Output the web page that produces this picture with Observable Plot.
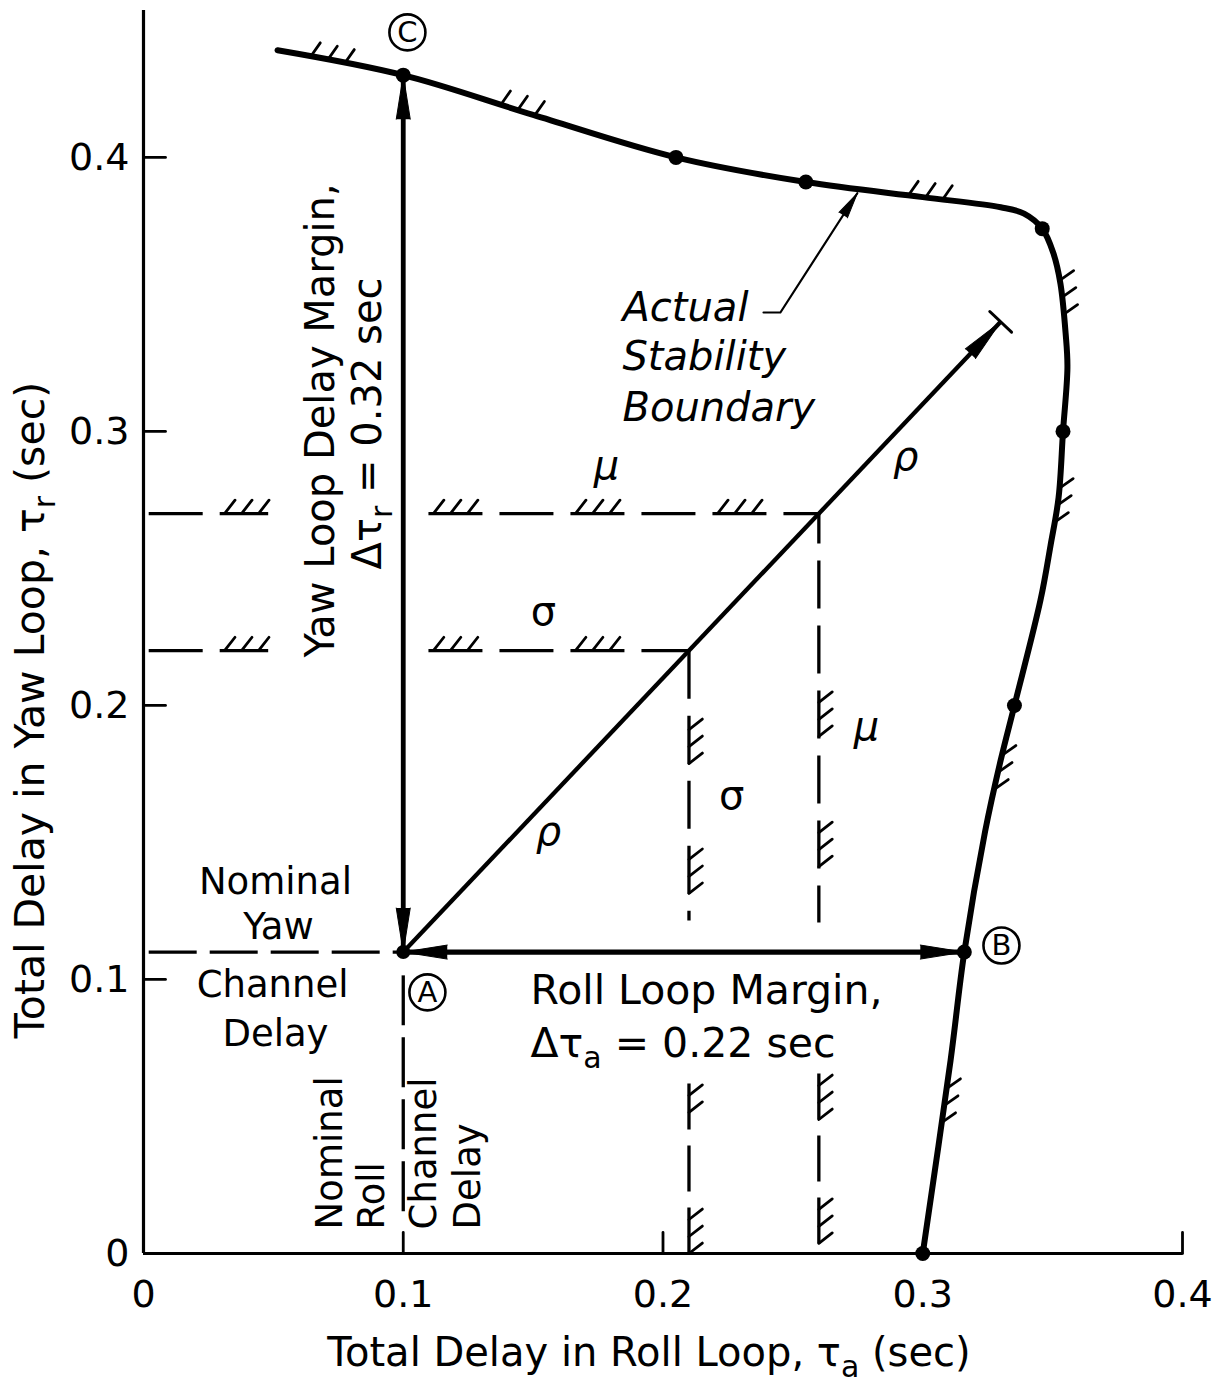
<!DOCTYPE html>
<html>
<head>
<meta charset="utf-8">
<script src="https://cdn.jsdelivr.net/npm/d3@7"></script>
<script src="https://cdn.jsdelivr.net/npm/@observablehq/plot@0.6"></script>
<style>
  html, body { margin: 0; padding: 0; background: #fff; }
  #chart svg { display: block; }
</style>
</head>
<body>
<div id="chart"></div>
<script>
// ---------------- data ----------------
const xTicks = [0, 0.1, 0.2, 0.3, 0.4];
const yTicks = [0, 0.1, 0.2, 0.3, 0.4];
const xTickMarks = [0.1, 0.2, 0.4];
const yTickMarks = [0.1, 0.2, 0.3, 0.4];

// actual stability boundary: total roll delay τa vs total yaw delay τr (sec)
const boundaryX = [0.0516, 0.100, 0.150, 0.205, 0.255, 0.300, 0.330, 0.339, 0.346, 0.3503, 0.353, 0.355, 0.3557, 0.354, 0.3523, 0.3492, 0.3453, 0.3353, 0.330, 0.324, 0.316, 0.3107, 0.300];
const boundaryY = [0.4391, 0.430, 0.4155, 0.400, 0.391, 0.3855, 0.3818, 0.3795, 0.374, 0.365, 0.354, 0.3358, 0.3234, 0.300, 0.2759, 0.2584, 0.2383, 0.200, 0.180, 0.154, 0.110, 0.0704, 0.000];
const cornerIndex = 8; // boundary turns from the top side to the right side here

// computed boundary points (dots)
const pointX = [0.100, 0.205, 0.255, 0.346, 0.354, 0.3353, 0.316, 0.300];
const pointY = [0.430, 0.400, 0.391, 0.374, 0.300, 0.200, 0.110, 0.000];

// nominal operating point A, margins to B (roll) and C (yaw)
const nominalRoll = 0.10;
const nominalYaw = 0.11;
const rollLimit = 0.316;     // B
const yawLimit = 0.43;       // C
const rhoLength = 0.23;      // radial (ρ) direction, equal added delays

// reference lines (σ, μ) : horizontal pieces
const hLineY  = [0.27, 0.27, 0.22, 0.22];
const hLineX1 = [0.002, 0.1097, 0.002, 0.1097];
const hLineX2 = [0.048, 0.260, 0.048, 0.210];
// vertical pieces
const vLineX  = [0.21, 0.26, 0.21, 0.26];
const vLineY1 = [0.22, 0.27, 0.062, 0.0657];
const vLineY2 = [0.1215, 0.1208, 0, 0];

// hatch groups on reference lines (first stroke)
const hHatchX = [0.0312, 0.1116, 0.1663, 0.2210, 0.0312, 0.1116, 0.1663];
const hHatchY = [0.27, 0.27, 0.27, 0.27, 0.22, 0.22, 0.22];
const vHatchX = [0.21, 0.21, 0.21, 0.21, 0.26, 0.26, 0.26, 0.26];
const vHatchY = [0.1912, 0.1438, 0.0577, 0.0124, 0.2011, 0.1536, 0.0613, 0.0161];
const vHatchN = [3, 3, 2, 3, 3, 3, 3, 3];
// hatch groups on the boundary
const topHatchX = [0.0643, 0.1375, 0.2945];
const sideHatchY = [0.3551, 0.2792, 0.1818, 0.0602];

// leader from the "Actual Stability Boundary" note
const leaderX = [0.2387, 0.2452, 0.2748];
const leaderY = [0.3434, 0.3434, 0.3869];

// text annotations
const plainText = ["Nominal", "Yaw", "Channel", "Delay"];
const plainX = [0.0508, 0.0520, 0.0497, 0.0508];
const plainY = [0.1354, 0.1190, 0.0978, 0.0799];

const rollNoteText = ["Nominal", "Roll", "Channel", "Delay"];
const rollNoteX = [0.0720, 0.0882, 0.1082, 0.1251];
const rollNoteY = [0.0088, 0.0088, 0.0088, 0.0088];

const marginText = ["Roll Loop Margin,", "Δτ_a = 0.22 sec"];
const marginX = [0.1490, 0.1490];
const marginY = [0.0960, 0.0766];

const yawMarginText = ["Yaw Loop Delay Margin,", "Δτ_r = 0.32 sec"];
const yawMarginX = [0.0685, 0.0866];
const yawMarginY = [0.3040, 0.3029];

const boundaryNote = ["Actual", "Stability", "Boundary"];
const boundaryNoteX = [0.1844, 0.1844, 0.1844];
const boundaryNoteY = [0.3449, 0.3270, 0.3084];

const greekText = ["μ", "σ", "μ", "σ", "ρ", "ρ"];
const greekX = [0.1782, 0.1540, 0.2783, 0.2264, 0.1559, 0.2934];
const greekY = [0.2872, 0.2340, 0.1920, 0.1670, 0.1537, 0.2905];
const greekItalic = [true, false, true, false, true, true];

const circleText = ["A", "B", "C"];
const circleX = [0.1093, 0.3303, 0.1016];
const circleY = [0.0953, 0.1124, 0.4456];

const xTitle = "Total Delay in Roll Loop, τ_a (sec)";
const yTitle = "Total Delay in Yaw Loop, τ_r (sec)";

// ---------------- layout ----------------
const W = 1226, H = 1382;
const mL = 143, mR = 44, mT = 10, mB = 129;
const xDomain = [0, 0.4];
const yDomain = [0, 0.4536];
const ppx = (W - mL - mR) / (xDomain[1] - xDomain[0]);
const ppy = (H - mT - mB) / (yDomain[1] - yDomain[0]);
const screenAngle = (dx, dy) => Math.atan2(dx * ppx, dy * ppy) * 180 / Math.PI;
const HS = 17; // hatch spacing (px)

function interp(xs, ys, v) {
  for (let i = 0; i < xs.length - 1; i++) {
    const a = xs[i], b = xs[i + 1];
    if ((v - a) * (v - b) <= 0) {
      const t = b === a ? 0 : (v - a) / (b - a);
      return ys[i] + t * (ys[i + 1] - ys[i]);
    }
  }
  return NaN;
}

// ---------------- derived tables ----------------
const boundary = boundaryX.map((x, i) => ({x, y: boundaryY[i]}));
const points = pointX.map((x, i) => ({x, y: pointY[i]}));
const topX = boundaryX.slice(0, cornerIndex + 1), topY = boundaryY.slice(0, cornerIndex + 1);
const sideY = boundaryY.slice(cornerIndex), sideX = boundaryX.slice(cornerIndex);

const hatches = [];
hHatchX.forEach((x0, i) => { for (let k = 0; k < 3; k++) hatches.push({x: x0 + k * HS / ppx, y: hHatchY[i], rot: 38}); });
vHatchY.forEach((y0, i) => { for (let k = 0; k < vHatchN[i]; k++) hatches.push({x: vHatchX[i], y: y0 - k * HS / ppy, rot: 52}); });
topHatchX.forEach(x0 => { for (let k = 0; k < 3; k++) { const x = x0 + k * HS / ppx; hatches.push({x, y: interp(topX, topY, x), rot: 35}); } });
sideHatchY.forEach(y0 => { for (let k = 0; k < 3; k++) { const y = y0 - k * HS / ppy; hatches.push({x: interp(sideY, sideX, y), y, rot: 55}); } });

const hLines = hLineY.map((y, i) => ({x1: hLineX1[i], x2: hLineX2[i], y}));
const vLines = vLineX.map((x, i) => ({x, y1: vLineY1[i], y2: vLineY2[i]}));

const rhoEnd = {x: nominalRoll + rhoLength, y: nominalYaw + rhoLength};
const rhoAngle = screenAngle(1, 1);
const shafts = [
  {x1: nominalRoll, y1: nominalYaw, x2: nominalRoll, y2: yawLimit, w: 4.8},
  {x1: nominalRoll, y1: nominalYaw, x2: rollLimit, y2: nominalYaw, w: 5.2},
  {x1: nominalRoll, y1: nominalYaw, x2: rhoEnd.x, y2: rhoEnd.y, w: 4.3}
];
const heads = [
  {x: nominalRoll, y: yawLimit, rot: 0},
  {x: nominalRoll, y: nominalYaw, rot: 180},
  {x: nominalRoll, y: nominalYaw, rot: 270},
  {x: rollLimit, y: nominalYaw, rot: 90},
  {x: rhoEnd.x, y: rhoEnd.y, rot: rhoAngle}
];
const leader = leaderX.map((x, i) => ({x, y: leaderY[i]}));
const leaderAngle = screenAngle(leaderX[2] - leaderX[1], leaderY[2] - leaderY[1]);

const lineShape = {draw(ctx, l) { ctx.moveTo(0, 0); ctx.lineTo(0, -l); }};
const idx = a => a.map((_, i) => i);

const chart = Plot.plot({
  width: W, height: H,
  marginLeft: mL, marginRight: mR, marginTop: mT, marginBottom: mB,
  x: {domain: xDomain},
  y: {domain: yDomain},
  style: {fontFamily: "DejaVu Sans", fontSize: "38px", background: "#fff", color: "#000", overflow: "visible"},
  marks: [
    // axes
    Plot.axisX({ticks: xTicks, tickSize: 0, tickPadding: 27, fontSize: 38, label: null,
      tickFormat: d => d === 0 ? "0" : d.toFixed(1)}),
    Plot.axisY({ticks: yTicks, tickSize: 0, tickPadding: 14, fontSize: 38, label: null,
      tickFormat: d => d === 0 ? "0" : d.toFixed(1)}),
    Plot.ruleY([0], {x1: xDomain[0], x2: xDomain[1], strokeWidth: 3.2}),
    Plot.ruleX([0], {y1: yDomain[0], y2: yDomain[1], strokeWidth: 3.2}),
    Plot.vector(xTickMarks, {x: d => d, y: () => 0, length: 21, rotate: 0, anchor: "start", shape: lineShape, strokeWidth: 2.8}),
    Plot.vector(yTickMarks, {x: () => 0, y: d => d, length: 22, rotate: 90, anchor: "start", shape: lineShape, strokeWidth: 2.8}),

    // nominal (dashed) lines through A
    Plot.link([0], {x1: () => 0.002, x2: () => nominalRoll, y1: () => nominalYaw, y2: () => nominalYaw, strokeWidth: 3.3, strokeDasharray: "48,13"}),
    Plot.link([0], {x1: () => nominalRoll, x2: () => nominalRoll, y1: () => nominalYaw - 0.0085, y2: () => 0.0113, strokeWidth: 3.3, strokeDasharray: "50,12"}),

    // σ and μ reference lines
    Plot.link(hLines, {x1: "x1", x2: "x2", y1: "y", y2: "y", strokeWidth: 3.3, strokeDasharray: "54,17"}),
    Plot.link(vLines.slice(0, 1), {x1: "x", x2: "x", y1: "y1", y2: "y2", strokeWidth: 3.3, strokeDasharray: "48,17"}),
    Plot.link(vLines.slice(1, 2), {x1: "x", x2: "x", y1: "y1", y2: "y2", strokeWidth: 3.3, strokeDasharray: "48,17", strokeDashoffset: 18}),
    Plot.link(vLines.slice(2), {x1: "x", x2: "x", y1: "y1", y2: "y2", strokeWidth: 3.3, strokeDasharray: "46,16"}),

    // hatching
    Plot.vector(hatches, {x: "x", y: "y", rotate: "rot", length: 17, anchor: "start", shape: lineShape, strokeWidth: 2.8}),

    // stability boundary
    Plot.line(boundary, {x: "x", y: "y", curve: "catmull-rom", strokeWidth: 6, strokeLinecap: "round", strokeLinejoin: "round"}),

    // margin arrows and ρ direction
    Plot.link(shafts, {x1: "x1", y1: "y1", x2: "x2", y2: "y2", strokeWidth: "w"}),
    Plot.vector(heads, {x: "x", y: "y", rotate: "rot", length: 44, anchor: "end", shape: "spike", r: 7, fill: "#000", stroke: "#000", strokeWidth: 1}),
    Plot.vector([rhoEnd], {x: "x", y: "y", rotate: rhoAngle + 90, length: 30, anchor: "middle", shape: lineShape, strokeWidth: 3}),

    // leader to boundary
    Plot.line(leader, {x: "x", y: "y", strokeWidth: 2.2}),
    Plot.vector([leader[2]], {x: "x", y: "y", rotate: leaderAngle, length: 26, anchor: "end", shape: "spike", r: 5, fill: "#000", stroke: "#000", strokeWidth: 1}),

    // dots
    Plot.dot(points, {x: "x", y: "y", r: 7.5, fill: "#000"}),
    Plot.dot([0], {x: () => nominalRoll, y: () => nominalYaw, r: 7, fill: "#000"}),

    // circled letters
    Plot.dot(idx(circleText), {x: i => circleX[i], y: i => circleY[i], r: 18, stroke: "#000", strokeWidth: 2.6, fill: "none"}),
    Plot.text(idx(circleText), {x: i => circleX[i], y: i => circleY[i], text: i => circleText[i], fontSize: 29, lineAnchor: "middle"}),

    // annotations
    Plot.text(idx(plainText), {x: i => plainX[i], y: i => plainY[i], text: i => plainText[i], fontSize: 37, lineAnchor: "middle"}),
    Plot.text(idx(rollNoteText), {x: i => rollNoteX[i], y: i => rollNoteY[i], text: i => rollNoteText[i], fontSize: 37, rotate: -90, textAnchor: "start", lineAnchor: "middle"}),
    Plot.text(idx(marginText), {x: i => marginX[i], y: i => marginY[i], text: i => marginText[i], fontSize: 41, textAnchor: "start", lineAnchor: "middle"}),
    Plot.text(idx(yawMarginText), {x: i => yawMarginX[i], y: i => yawMarginY[i], text: i => yawMarginText[i], fontSize: 40, rotate: -90, textAnchor: "middle", lineAnchor: "middle"}),
    Plot.text(idx(boundaryNote), {x: i => boundaryNoteX[i], y: i => boundaryNoteY[i], text: i => boundaryNote[i], fontSize: 40, fontStyle: "italic", textAnchor: "start", lineAnchor: "middle"}),
    Plot.text(idx(greekText).filter(i => greekItalic[i]), {x: i => greekX[i], y: i => greekY[i], text: i => greekText[i], fontSize: 40, fontStyle: "italic", lineAnchor: "middle"}),
    Plot.text(idx(greekText).filter(i => !greekItalic[i]), {x: i => greekX[i], y: i => greekY[i], text: i => greekText[i], fontSize: 40, lineAnchor: "middle"}),

    // axis titles
    Plot.text([xTitle], {frameAnchor: "bottom", dx: -14, dy: 100, fontSize: 40, textAnchor: "middle", lineAnchor: "middle"}),
    Plot.text([yTitle], {frameAnchor: "left", rotate: -90, dx: -113, dy: 78, fontSize: 41, textAnchor: "middle", lineAnchor: "middle"})
  ]
});

// subscripts: "τ_a" -> τ with a lowered, smaller a
const NS = "http://www.w3.org/2000/svg";
chart.querySelectorAll("text").forEach(t => {
  const s = t.textContent;
  const i = s.indexOf("_");
  if (i < 0) return;
  t.textContent = "";
  const parts = [[s.slice(0, i), null, null], [s[i + 1], "11", "30"], [s.slice(i + 2), "-11", null]];
  for (const [txt, dy, fs] of parts) {
    const sp = document.createElementNS(NS, "tspan");
    sp.textContent = txt;
    if (dy) sp.setAttribute("dy", dy);
    if (fs) sp.setAttribute("font-size", fs);
    t.appendChild(sp);
  }
});

document.getElementById("chart").appendChild(chart);
</script>
</body>
</html>
